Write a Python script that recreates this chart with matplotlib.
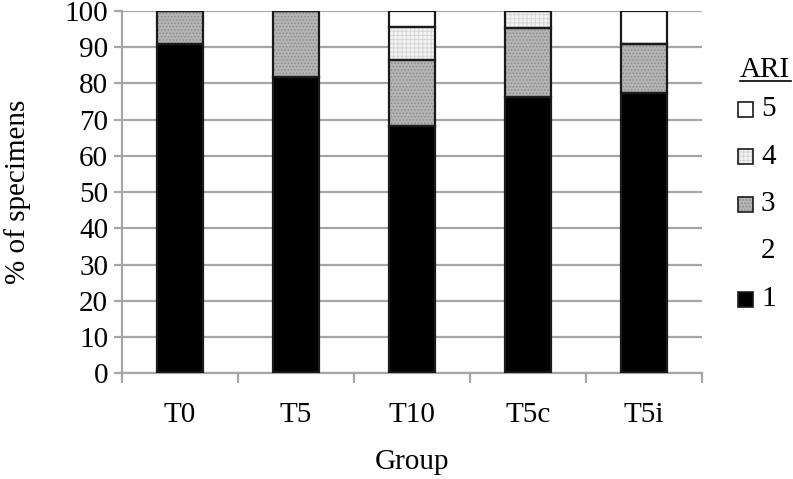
import matplotlib.pyplot as plt
from matplotlib.patches import Rectangle
from matplotlib.lines import Line2D
import numpy as np

groups = ['T0', 'T5', 'T10', 'T5c', 'T5i']
ari1 = [90.9, 81.8, 68.2, 76.2, 77.3]
ari2 = [0, 0, 0, 0, 0]
ari3 = [9.1, 18.2, 18.2, 19.0, 13.6]
ari4 = [0, 0, 9.1, 4.8, 0]
ari5 = [0, 0, 4.5, 0, 9.1]
legend_labels = ['5', '4', '3', '2', '1']

plt.rcParams['font.family'] = ['Liberation Serif', 'DejaVu Serif']
plt.rcParams['font.size'] = 21
plt.rcParams['hatch.linewidth'] = 0.7

W, H = 793, 479
fig = plt.figure(figsize=(W / 100, H / 100), dpi=100)
ax = fig.add_axes([0.154, 0.221, 0.731, 0.756])

x = np.arange(len(groups))
w = 0.4
grid_c = '#a6a6a6'

# fill, hatch, hatch colour for each ARI score (1..5)
styles = [
    ('#000000', None, '#000000'),
    ('none', None, 'none'),
    ('#b4b4b4', '.....', '#8c8c8c'),
    ('#f4f4f4', '++++', '#d6d6d6'),
    ('#ffffff', None, '#ffffff'),
]

bottom = np.zeros(len(groups))
for vals, (fc, hatch, hc) in zip([ari1, ari2, ari3, ari4, ari5], styles):
    vals = np.array(vals, dtype=float)
    if fc != 'none':
        ax.bar(x, vals, w, bottom=bottom, color=fc, hatch=hatch,
               edgecolor=hc, linewidth=0, zorder=2)
        ax.bar(x, vals, w, bottom=bottom, fill=False,
               edgecolor='#1a1a1a', linewidth=1.6, zorder=3)
    bottom += vals

ax.set_xlim(-0.5, len(groups) - 0.5)
ax.set_ylim(0, 100)
ax.set_yticks(np.arange(0, 101, 10))
ax.yaxis.grid(True, color=grid_c, linewidth=1.6, zorder=0)
ax.set_axisbelow(True)

for s in ['top', 'right']:
    ax.spines[s].set_visible(False)
for s in ['left', 'bottom']:
    ax.spines[s].set_color(grid_c)
    ax.spines[s].set_linewidth(1.6)

ax.set_xticks(x)
ax.set_xticklabels(groups)
ax.tick_params(axis='x', length=0, pad=21)
ax.set_xticks(np.arange(-0.5, len(groups)), minor=True)
ax.tick_params(axis='x', which='minor', length=7, color=grid_c, width=1.6, direction='out')
ax.tick_params(axis='y', length=6, color=grid_c, width=1.6, pad=4)

ax.set_xlabel('Group', labelpad=15)
ax.set_ylabel('% of specimens', labelpad=24)

# legend drawn by hand (pixel layout of the original)
def fx(px):
    return px / W

def fy(py):
    return 1 - py / H

fig.text(fx(740), fy(70), 'ARI', ha='left', va='center')
fig.add_artist(Line2D([fx(740), fx(791)], [fy(81), fy(81)], color='black',
                      linewidth=1.2, transform=fig.transFigure))

legend_styles = styles[::-1]
for i, (lab, (fc, hatch, hc)) in enumerate(zip(legend_labels, legend_styles)):
    yc = 109 + i * 47.5
    if fc != 'none':
        fig.add_artist(Rectangle((fx(738), fy(yc + 7.5)), 15 / W, 15 / H,
                                 facecolor=fc, hatch=hatch, edgecolor=hc,
                                 linewidth=0, transform=fig.transFigure))
        fig.add_artist(Rectangle((fx(738), fy(yc + 7.5)), 15 / W, 15 / H,
                                 fill=False, edgecolor='#1a1a1a',
                                 linewidth=1.2, transform=fig.transFigure))
    fig.text(fx(761), fy(yc), lab, ha='left', va='center')

plt.savefig('out.png', dpi=100)
